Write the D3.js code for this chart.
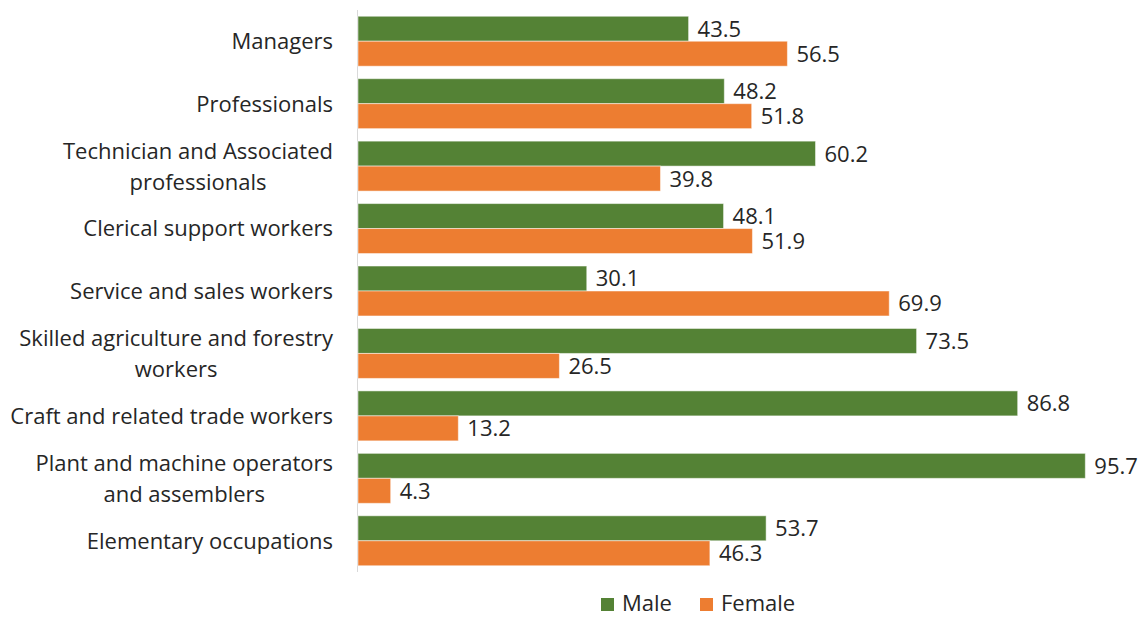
<!DOCTYPE html>
<html>
<head>
<meta charset="utf-8">
<script src="https://d3js.org/d3.v7.min.js"></script>
<style>
  body { margin: 0; background: #fff; }
  text { font-family: "Open Sans", "Noto Sans", sans-serif; fill: #262626; }
</style>
</head>
<body>
<div id="chartHere"></div>
<script>
// categories (line breaks as in the source chart)
var categories = [
  ["Managers"],
  ["Professionals"],
  ["Technician and Associated", "professionals"],
  ["Clerical support workers"],
  ["Service and sales workers"],
  ["Skilled agriculture and forestry", "workers"],
  ["Craft and related trade workers"],
  ["Plant and machine operators", "and assemblers"],
  ["Elementary occupations"]
];
var male   = [43.5, 48.2, 60.2, 48.1, 30.1, 73.5, 86.8, 95.7, 53.7];
var female = [56.5, 51.8, 39.8, 51.9, 69.9, 26.5, 13.2,  4.3, 46.3];
var seriesNames = ["Male", "Female"];
var seriesColors = ["#548235", "#ED7D31"];

var W = 1141, H = 617;
var fs = 22;
var svg = d3.select("#chartHere").append("svg")
  .attr("width", W).attr("height", H);

var x = d3.scaleLinear().domain([0, 100]).range([358, 1118]);
var y = d3.scaleBand()
  .domain(d3.range(categories.length))
  .range([10, 572])
  .paddingInner(0.2)
  .paddingOuter(0.1);
var sub = d3.scaleBand().domain([0, 1]).range([0, y.bandwidth()]);

// vertical axis line
svg.append("line")
  .attr("x1", x(0) - 0.5).attr("x2", x(0) - 0.5)
  .attr("y1", 10).attr("y2", 572)
  .attr("stroke", "#d9d9d9").attr("stroke-width", 1);

var rows = categories.map(function (c, i) {
  return { i: i, label: c, vals: [male[i], female[i]] };
});

var g = svg.selectAll("g.row").data(rows).enter().append("g")
  .attr("class", "row")
  .attr("transform", function (d) { return "translate(0," + y(d.i) + ")"; });

g.selectAll("rect").data(function (d) { return d.vals; }).enter().append("rect")
  .attr("x", x(0))
  .attr("y", function (d, j) { return sub(j); })
  .attr("width", function (d) { return x(d) - x(0); })
  .attr("height", sub.bandwidth())
  .attr("fill", function (d, j) { return seriesColors[j]; })
  .attr("stroke", "#fff").attr("stroke-opacity", 0.5).attr("stroke-width", 1);

g.selectAll("text.val").data(function (d) { return d.vals; }).enter().append("text")
  .attr("class", "val")
  .attr("x", function (d) { return x(d) + 9; })
  .attr("y", function (d, j) { return sub(j) + sub.bandwidth() / 2; })
  .attr("dy", "0.36em")
  .attr("font-size", fs)
  .text(function (d) { return d3.format(".1f")(d); });

// category labels, wrapped lines centred on each other, right edge at 333
g.each(function (d) {
  var lab = d3.select(this).append("text")
    .attr("font-size", fs)
    .attr("text-anchor", "middle");
  var n = d.label.length;
  d.label.forEach(function (line, k) {
    lab.append("tspan").attr("x", 0)
      .attr("y", y.bandwidth() / 2 + (k - (n - 1) / 2) * 31)
      .attr("dy", "0.36em")
      .text(line);
  });
  var wmax = 0;
  lab.selectAll("tspan").each(function () {
    wmax = Math.max(wmax, this.getComputedTextLength());
  });
  lab.attr("transform", "translate(" + (333 - wmax / 2) + ",0)");
});

// legend
var leg = svg.append("g").attr("transform", "translate(601,604)");
var legX = [0, 99];
seriesNames.forEach(function (s, j) {
  leg.append("rect")
    .attr("x", legX[j]).attr("y", -6)
    .attr("width", 13).attr("height", 13)
    .attr("fill", seriesColors[j]);
  leg.append("text")
    .attr("x", legX[j] + 21).attr("y", 0)
    .attr("dy", "0.3em")
    .attr("font-size", fs)
    .text(s);
});
</script>
</body>
</html>
